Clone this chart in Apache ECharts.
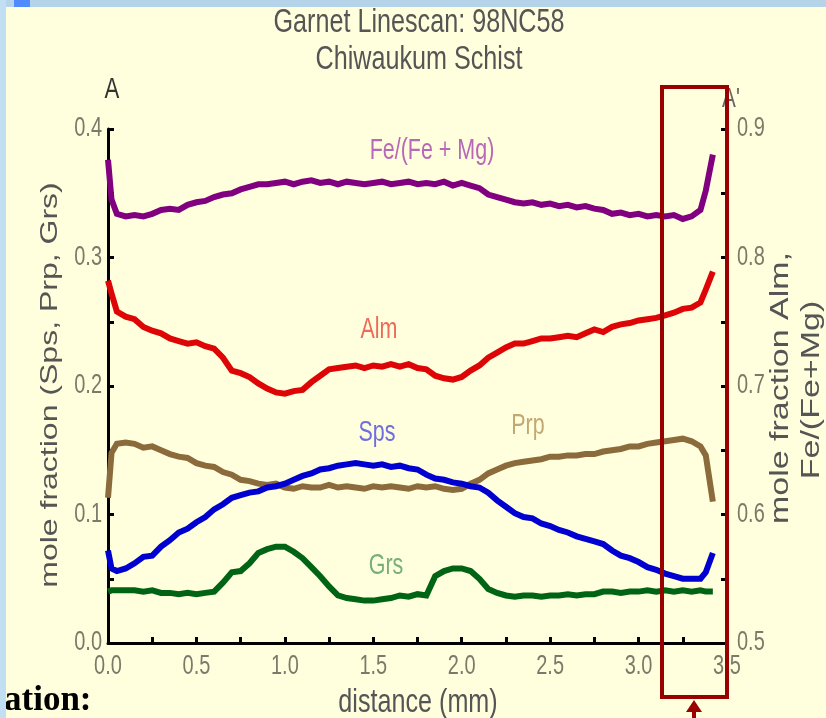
<!DOCTYPE html>
<html>
<head>
<meta charset="utf-8">
<script src="https://cdn.jsdelivr.net/npm/echarts@6/dist/echarts.min.js"></script>
<style>
  html, body { margin: 0; padding: 0; background: #ffffdd; }
  #chart { width: 826px; height: 718px; }
</style>
</head>
<body>
<div id="chart"></div>
<script>
// distance along the scan (mm)
var dist = [0, 0.02, 0.05, 0.10, 0.15, 0.20, 0.25, 0.30, 0.35, 0.40, 0.45, 0.50, 0.55, 0.60, 0.65, 0.70,
  0.75, 0.80, 0.85, 0.90, 0.95, 1.00, 1.05, 1.10, 1.15, 1.20, 1.25, 1.30, 1.35, 1.40, 1.45, 1.50,
  1.55, 1.60, 1.65, 1.70, 1.75, 1.80, 1.85, 1.90, 1.95, 2.00, 2.05, 2.10, 2.15, 2.20, 2.25, 2.30,
  2.35, 2.40, 2.45, 2.50, 2.55, 2.60, 2.65, 2.70, 2.75, 2.80, 2.85, 2.90, 2.95, 3.00, 3.05, 3.10,
  3.15, 3.20, 3.25, 3.30, 3.35, 3.38, 3.42];

// right axis: Fe/(Fe+Mg) and Alm
var feMg = [0.876, 0.845, 0.834, 0.832, 0.833, 0.832, 0.834, 0.837, 0.838, 0.837, 0.841, 0.843, 0.844, 0.847, 0.849, 0.850,
  0.853, 0.855, 0.857, 0.857, 0.858, 0.859, 0.857, 0.859, 0.860, 0.858, 0.859, 0.857, 0.859, 0.858, 0.857, 0.858,
  0.859, 0.857, 0.858, 0.859, 0.857, 0.858, 0.857, 0.859, 0.856, 0.858, 0.856, 0.854, 0.849, 0.847, 0.845, 0.843,
  0.842, 0.843, 0.841, 0.842, 0.840, 0.841, 0.839, 0.840, 0.838, 0.837, 0.834, 0.835, 0.833, 0.834, 0.832, 0.833,
  0.832, 0.833, 0.830, 0.832, 0.837, 0.852, 0.880];
var alm = [0.782, 0.772, 0.758, 0.754, 0.752, 0.746, 0.743, 0.741, 0.737, 0.735, 0.733, 0.734, 0.731, 0.729, 0.722, 0.712,
  0.710, 0.707, 0.702, 0.698, 0.695, 0.694, 0.696, 0.697, 0.703, 0.708, 0.713, 0.714, 0.715, 0.716, 0.714, 0.716,
  0.715, 0.717, 0.715, 0.717, 0.714, 0.713, 0.708, 0.706, 0.705, 0.707, 0.712, 0.716, 0.722, 0.726, 0.730, 0.733,
  0.733, 0.735, 0.737, 0.737, 0.738, 0.739, 0.738, 0.741, 0.744, 0.742, 0.746, 0.748, 0.749, 0.751, 0.752, 0.753,
  0.755, 0.757, 0.760, 0.761, 0.765, 0.775, 0.789];

// left axis: Sps, Prp, Grs
var sps = [0.072, 0.058, 0.056, 0.058, 0.062, 0.067, 0.068, 0.075, 0.080, 0.086, 0.089, 0.094, 0.098, 0.104, 0.108, 0.113,
  0.115, 0.117, 0.118, 0.121, 0.122, 0.124, 0.127, 0.130, 0.132, 0.135, 0.136, 0.138, 0.139, 0.140, 0.139, 0.138,
  0.139, 0.137, 0.138, 0.136, 0.135, 0.131, 0.128, 0.127, 0.125, 0.124, 0.122, 0.121, 0.117, 0.111, 0.106, 0.101,
  0.098, 0.097, 0.093, 0.091, 0.088, 0.086, 0.083, 0.081, 0.079, 0.077, 0.072, 0.068, 0.066, 0.063, 0.059, 0.057,
  0.054, 0.052, 0.050, 0.050, 0.050, 0.055, 0.070];
var prp = [0.113, 0.148, 0.155, 0.156, 0.155, 0.152, 0.153, 0.150, 0.147, 0.145, 0.144, 0.140, 0.138, 0.137, 0.133, 0.131,
  0.127, 0.126, 0.124, 0.123, 0.124, 0.121, 0.120, 0.122, 0.121, 0.121, 0.123, 0.121, 0.122, 0.121, 0.120, 0.122,
  0.121, 0.122, 0.121, 0.120, 0.122, 0.121, 0.122, 0.120, 0.119, 0.120, 0.124, 0.127, 0.132, 0.135, 0.138, 0.140,
  0.141, 0.142, 0.143, 0.145, 0.145, 0.146, 0.146, 0.147, 0.147, 0.149, 0.150, 0.151, 0.153, 0.153, 0.155, 0.156,
  0.157, 0.158, 0.159, 0.157, 0.153, 0.146, 0.110];
var grs = [0.040, 0.041, 0.041, 0.041, 0.041, 0.040, 0.041, 0.039, 0.039, 0.038, 0.039, 0.038, 0.039, 0.040, 0.047, 0.055,
  0.056, 0.062, 0.070, 0.073, 0.075, 0.075, 0.071, 0.066, 0.059, 0.052, 0.044, 0.037, 0.035, 0.034, 0.033, 0.033,
  0.034, 0.035, 0.037, 0.036, 0.038, 0.037, 0.052, 0.056, 0.058, 0.058, 0.056, 0.050, 0.042, 0.039, 0.037, 0.036,
  0.037, 0.037, 0.036, 0.037, 0.037, 0.038, 0.037, 0.038, 0.038, 0.040, 0.040, 0.039, 0.040, 0.040, 0.041, 0.040,
  0.041, 0.040, 0.041, 0.040, 0.041, 0.040, 0.040];

// tick labels
var xTicks = [0, 0.5, 1.0, 1.5, 2.0, 2.5, 3.0, 3.5];
var leftTicks = [0, 0.1, 0.2, 0.3, 0.4];
var rightTicks = [0.5, 0.6, 0.7, 0.8, 0.9];

var FONT = '"Liberation Sans", Arial, sans-serif';
var SQ = 0.74; // the original picture is squeezed sideways

function pairs(vals) {
  return vals.map(function (v, i) { return [dist[i], v]; });
}

function mkSeries(name, vals, color, axis) {
  return {
    name: name,
    type: 'line',
    yAxisIndex: axis,
    data: pairs(vals),
    symbol: 'none',
    lineStyle: { color: color, width: 6, join: 'miter' },
    animation: false
  };
}

// horizontal text, narrowed like the source
function htext(x, y, txt, size, color, align) {
  return { type: 'text', x: x, y: y, scaleX: SQ,
    style: { text: txt, fill: color, font: size + 'px ' + FONT, align: align || 'center', verticalAlign: 'middle' } };
}
// rotated text, thin across
function vtext(x, y, txt, size, color) {
  return { type: 'text', x: x, y: y, rotation: Math.PI / 2, scaleY: SQ,
    style: { text: txt, fill: color, font: size + 'px ' + FONT, align: 'center', verticalAlign: 'middle' } };
}

var chart = echarts.init(document.getElementById('chart'));

var axisCommon = {
  axisLine: { lineStyle: { color: '#000', width: 3 } },
  axisTick: { inside: true, length: 6, lineStyle: { color: '#000', width: 3 } },
  minorTick: { show: true, splitNumber: 2, length: 6, lineStyle: { color: '#000', width: 3 } },
  splitLine: { show: false },
  axisLabel: { show: false }
};

var option = {
  backgroundColor: '#ffffdd',
  animation: false,
  grid: { left: 108, right: 99, top: 129, bottom: 75 },
  xAxis: Object.assign({}, axisCommon, { type: 'value', min: 0, max: 3.5, interval: 0.5 }),
  yAxis: [
    Object.assign({}, axisCommon, { type: 'value', min: 0, max: 0.4, interval: 0.1, position: 'left' }),
    Object.assign({}, axisCommon, { type: 'value', min: 0.5, max: 0.9, interval: 0.1, position: 'right' })
  ],
  series: [
    mkSeries('Grs', grs, '#006414', 0),
    mkSeries('Prp', prp, '#8b6b3b', 0),
    mkSeries('Sps', sps, '#0000d0', 0),
    mkSeries('Alm', alm, '#dd0505', 1),
    mkSeries('Fe/(Fe + Mg)', feMg, '#800080', 1)
  ]
};

chart.setOption(option);

var labelColor = '#7a7a6a';
var g = [
  // slide frame strips
  { type: 'rect', left: 0, top: 0, shape: { width: 826, height: 7 }, style: { fill: '#b5d3e9' }, z: 1 },
  { type: 'rect', left: 0, top: 0, shape: { width: 6, height: 718 }, style: { fill: '#c2def2' }, z: 1 },
  { type: 'rect', left: 14, top: 0, shape: { width: 16, height: 7 }, style: { fill: '#4f8bff' }, z: 2 },
  // titles
  htext(419, 23, 'Garnet Linescan: 98NC58', 34, '#555'),
  htext(419, 60, 'Chiwaukum Schist', 34, '#555'),
  htext(112, 90, 'A', 30, '#333'),
  htext(731, 99, "A'", 28, '#666'),
  // axis names
  vtext(50, 385, 'mole fraction (Sps, Prp, Grs)', 32, '#555'),
  vtext(781, 388, 'mole fraction Alm,', 34, '#555'),
  vtext(812, 390, 'Fe/(Fe+Mg)', 34, '#555'),
  htext(418, 703, 'distance (mm)', 34, '#555'),
  // series labels
  htext(432, 151, 'Fe/(Fe + Mg)', 29, '#b868b8'),
  htext(379, 330, 'Alm', 29, '#ee6a5a'),
  htext(377, 433, 'Sps', 29, '#6e6ee0'),
  htext(528, 426, 'Prp', 29, '#c4a874'),
  htext(386, 566, 'Grs', 29, '#78b078'),
  // highlight box and arrow
  { type: 'rect', z: 100, shape: { x: 662, y: 87, width: 65, height: 610 }, style: { fill: null, stroke: '#990000', lineWidth: 4 } },
  { type: 'polygon', z: 100, shape: { points: [[694, 700], [686, 712], [702, 712]] }, style: { fill: '#990000' } },
  { type: 'line', z: 100, shape: { x1: 694, y1: 708, x2: 694, y2: 718 }, style: { stroke: '#990000', lineWidth: 4 } },
  // slide text cut off at the bottom left
  { type: 'text', x: 4, y: 701, style: { text: 'ation:', fill: '#000', font: 'bold 35px "Liberation Serif", serif', verticalAlign: 'middle' } }
];

// tick labels placed through the axes' own scales
xTicks.forEach(function (t) {
  var px = chart.convertToPixel({ xAxisIndex: 0 }, t);
  g.push(htext(px, 667, t.toFixed(1), 27, labelColor));
});
leftTicks.forEach(function (t) {
  var py = chart.convertToPixel({ yAxisIndex: 0 }, t);
  g.push(htext(102, py, t.toFixed(1), 27, labelColor, 'right'));
});
rightTicks.forEach(function (t) {
  var py = chart.convertToPixel({ yAxisIndex: 1 }, t);
  g.push(htext(737, py, t.toFixed(1), 27, labelColor, 'left'));
});

chart.setOption({ graphic: g });
</script>
</body>
</html>
